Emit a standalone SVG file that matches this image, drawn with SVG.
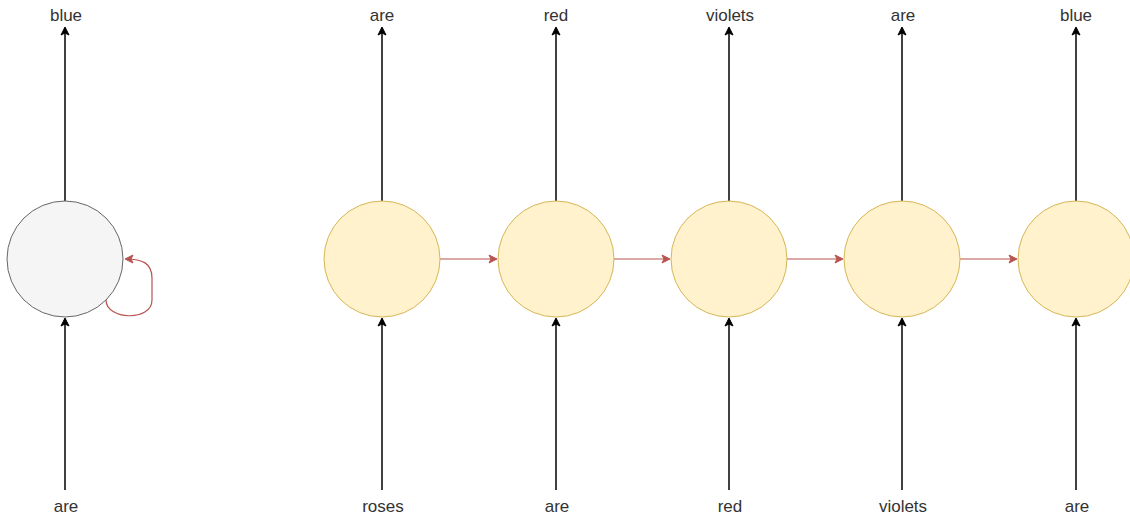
<svg xmlns="http://www.w3.org/2000/svg" width="1130" height="517" viewBox="0 0 1130 517">
  <defs>
    <marker id="arrBlack" markerWidth="10" markerHeight="10" refX="8" refY="5" orient="auto" markerUnits="userSpaceOnUse">
      <path d="M1,1 L9,5 L1,9 L3,5 Z" fill="#000" stroke="#000" stroke-width="1"/>
    </marker>
    <marker id="arrRed" markerWidth="10" markerHeight="10" refX="8" refY="5" orient="auto" markerUnits="userSpaceOnUse">
      <path d="M1,1 L9,5 L1,9 L3,5 Z" fill="#b85450" stroke="#b85450" stroke-width="1"/>
    </marker>
  </defs>
  <style>
    .lbl { font-family: "Liberation Sans", Arial, sans-serif; font-size: 17px; fill: #333; text-anchor: middle; }
    .io { stroke: #000; stroke-width: 1.5; fill: none; marker-end: url(#arrBlack); }
    .rec { stroke: #b85450; stroke-width: 1.2; fill: none; marker-end: url(#arrRed); }
    .cellGray { fill: #f5f5f5; stroke: #666; stroke-width: 1; }
    .cellY { fill: #fff2cc; stroke: #d6b656; stroke-width: 1; }
  </style>
  <rect width="1130" height="517" fill="#fff"/>

  <!-- connectors -->
  <g id="connectors">
    <!-- folded cell -->
    <line class="io" x1="65" y1="490" x2="65" y2="319"/>
    <line class="io" x1="65" y1="201" x2="65" y2="28"/>
    <path class="rec" d="M106,300 C106,320 152,322 152,300 L152,278 C152,263 142,259 126,259"/>
    <!-- unrolled cells: inputs -->
    <line class="io" x1="382" y1="490" x2="382" y2="319"/>
    <line class="io" x1="556" y1="490" x2="556" y2="319"/>
    <line class="io" x1="729" y1="490" x2="729" y2="319"/>
    <line class="io" x1="902" y1="490" x2="902" y2="319"/>
    <line class="io" x1="1076" y1="490" x2="1076" y2="319"/>
    <!-- unrolled cells: outputs -->
    <line class="io" x1="382" y1="201" x2="382" y2="28"/>
    <line class="io" x1="556" y1="201" x2="556" y2="28"/>
    <line class="io" x1="729" y1="201" x2="729" y2="28"/>
    <line class="io" x1="902" y1="201" x2="902" y2="28"/>
    <line class="io" x1="1076" y1="201" x2="1076" y2="28"/>
    <!-- hidden state -->
    <line class="rec" x1="440" y1="259" x2="496" y2="259"/>
    <line class="rec" x1="614" y1="259" x2="669" y2="259"/>
    <line class="rec" x1="787" y1="259" x2="842" y2="259"/>
    <line class="rec" x1="960" y1="259" x2="1016" y2="259"/>
  </g>

  <g id="cell-folded">
    <circle class="cellGray" cx="65" cy="259" r="58"/>
  </g>
  <g id="cell-1"><circle class="cellY" cx="382" cy="259" r="58"/></g>
  <g id="cell-2"><circle class="cellY" cx="556" cy="259" r="58"/></g>
  <g id="cell-3"><circle class="cellY" cx="729" cy="259" r="58"/></g>
  <g id="cell-4"><circle class="cellY" cx="902" cy="259" r="58"/></g>
  <g id="cell-5"><circle class="cellY" cx="1076" cy="259" r="58"/></g>

  <g id="labels-out">
    <text class="lbl" x="66" y="21">blue</text>
    <text class="lbl" x="382" y="21">are</text>
    <text class="lbl" x="556" y="21">red</text>
    <text class="lbl" x="730" y="21">violets</text>
    <text class="lbl" x="903" y="21">are</text>
    <text class="lbl" x="1076" y="21">blue</text>
  </g>
  <g id="labels-in">
    <text class="lbl" x="66" y="512">are</text>
    <text class="lbl" x="383" y="512">roses</text>
    <text class="lbl" x="557" y="512">are</text>
    <text class="lbl" x="730" y="512">red</text>
    <text class="lbl" x="903" y="512">violets</text>
    <text class="lbl" x="1077" y="512">are</text>
  </g>
</svg>
